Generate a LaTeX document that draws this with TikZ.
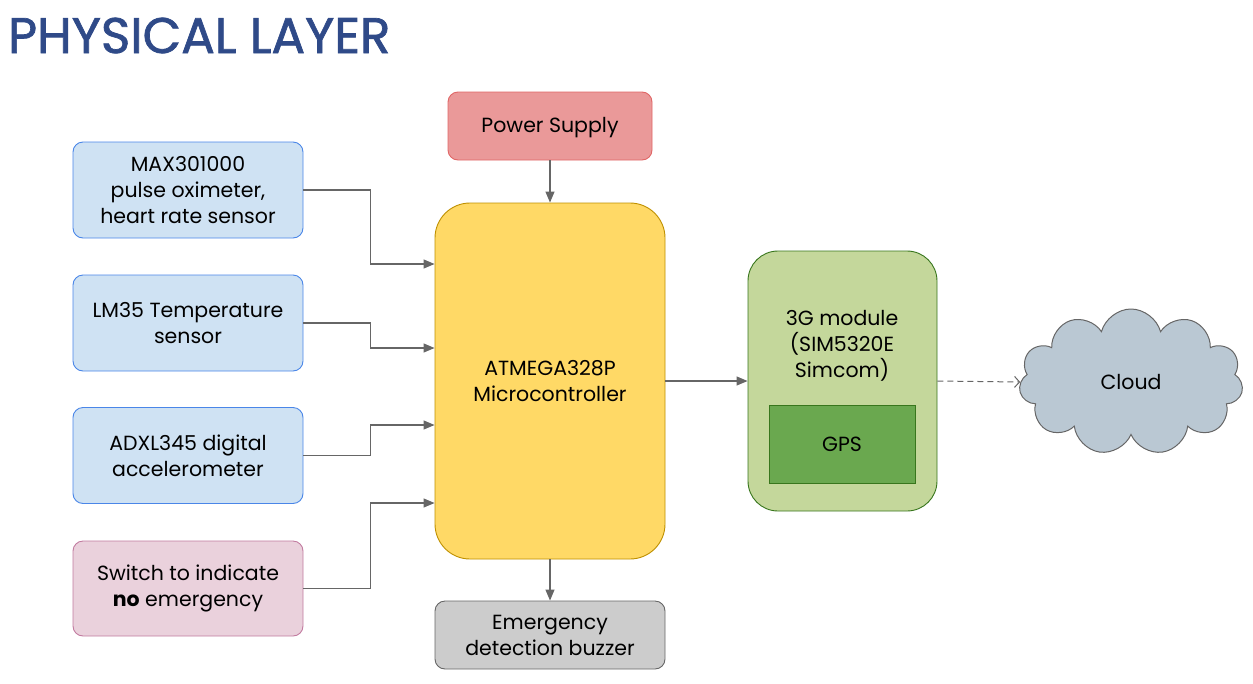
\documentclass[tikz,border=0pt]{standalone}
\usepackage{fontspec}
\setmainfont{Poppins}
\newfontfamily\titlefont{Poppins}[FakeBold=1.4]
\usepackage{tikz}
\usetikzlibrary{arrows.meta,shapes.symbols,calc}

\definecolor{titleblue}{HTML}{2F4A88}
\definecolor{sensorfill}{HTML}{CFE2F3}
\definecolor{sensordraw}{HTML}{4A86E8}
\definecolor{powerfill}{HTML}{EA9999}
\definecolor{powerdraw}{HTML}{E06666}
\definecolor{switchfill}{HTML}{EAD1DC}
\definecolor{switchdraw}{HTML}{C27BA0}
\definecolor{mcufill}{HTML}{FFD966}
\definecolor{mcudraw}{HTML}{BF9000}
\definecolor{buzzfill}{HTML}{CCCCCC}
\definecolor{buzzdraw}{HTML}{666666}
\definecolor{gsmfill}{HTML}{C4D79B}
\definecolor{gsmdraw}{HTML}{38761D}
\definecolor{gpsfill}{HTML}{6AA84F}
\definecolor{cloudfill}{HTML}{BAC8D3}
\definecolor{clouddraw}{HTML}{666666}
\definecolor{wiregray}{HTML}{666666}

\begin{document}
\begin{tikzpicture}[x=1pt,y=-1pt,
  box/.style={draw, rounded corners=10pt, line width=0.9pt, align=center, inner sep=0pt,
    font=\fontsize{20.5}{26}\selectfont},
  sensor/.style={box, fill=sensorfill, draw=sensordraw, minimum width=230pt, minimum height=96pt},
  wire/.style={draw=wiregray, line width=1.2pt, -{Triangle[length=11pt,width=9pt]}},
  dashwire/.style={draw=wiregray, line width=1pt, dash pattern=on 6pt off 4pt,
    -{Straight Barb[length=5pt,width=11pt]}}]
\useasboundingbox (0,0) rectangle (1253,683);

\node[anchor=base west, text=titleblue, inner sep=0pt, font=\fontsize{50}{50}\titlefont]
  (title) at (8,53) {PHYSICAL LAYER};

% inputs
\node[sensor] (max) at (188,190) {MAX301000\\pulse oximeter,\\heart rate sensor};
\node[sensor] (lm35) at (188,323) {LM35 Temperature\\sensor};
\node[sensor] (adxl) at (188,455.5) {ADXL345 digital\\accelerometer};
\node[box, fill=switchfill, draw=switchdraw, minimum width=230pt, minimum height=95pt]
  (switch) at (188,588.5) {Switch to indicate\\\textbf{no} emergency};

\node[box, fill=powerfill, draw=powerdraw, minimum width=204pt, minimum height=68pt,
  text height=15pt, text depth=3pt] (power) at (550,126) {Power Supply};
\node[box, fill=mcufill, draw=mcudraw, rounded corners=35pt, minimum width=230pt, minimum height=356pt]
  (mcu) at (550,381) {ATMEGA328P\\Microcontroller};
\node[box, fill=buzzfill, draw=buzzdraw, minimum width=230pt, minimum height=68pt]
  (buzzer) at (550,635) {Emergency\\detection buzzer};

% 3G module with GPS inside
\node[box, fill=gsmfill, draw=gsmdraw, rounded corners=30pt, minimum width=189pt, minimum height=260pt]
  (gsm) at (842.5,381) {};
\node[align=center, font=\fontsize{20.5}{26}\selectfont] (gsmtext) at (842,346) {3G module\\(SIM5320E\\Simcom)};
\node[box, rounded corners=0pt, fill=gpsfill, draw=gsmdraw, minimum width=146pt, minimum height=78pt]
  (gps) at (842,444) {GPS};

\node[cloud, cloud puffs=11, cloud ignores aspect, draw=clouddraw, fill=cloudfill, line width=1pt,
  minimum width=224pt, minimum height=146pt, font=\fontsize{20.5}{26}\selectfont]
  (cloud) at (1131,382) {Cloud};

\coordinate (in1) at ($(mcu.west)+(0,-117)$);
\coordinate (in2) at ($(mcu.west)+(0,-33)$);
\coordinate (in3) at ($(mcu.west)+(0,44)$);
\coordinate (in4) at ($(mcu.west)+(0,122)$);

\draw[wire] (max.east) -- ++(67,0) |- (in1);
\draw[wire] (lm35.east) -- ++(67,0) |- (in2);
\draw[wire] (adxl.east) -- ++(67,0) |- (in3);
\draw[wire] (switch.east) -- ++(67,0) |- (in4);
\draw[wire] (power.south) -- (mcu.north);
\draw[wire] (mcu.south) -- (buzzer.north);
\draw[wire] (mcu.east) -- (gsm.west);
\draw[dashwire] (gsm.east) -- (cloud.west);
\end{tikzpicture}
\end{document}
